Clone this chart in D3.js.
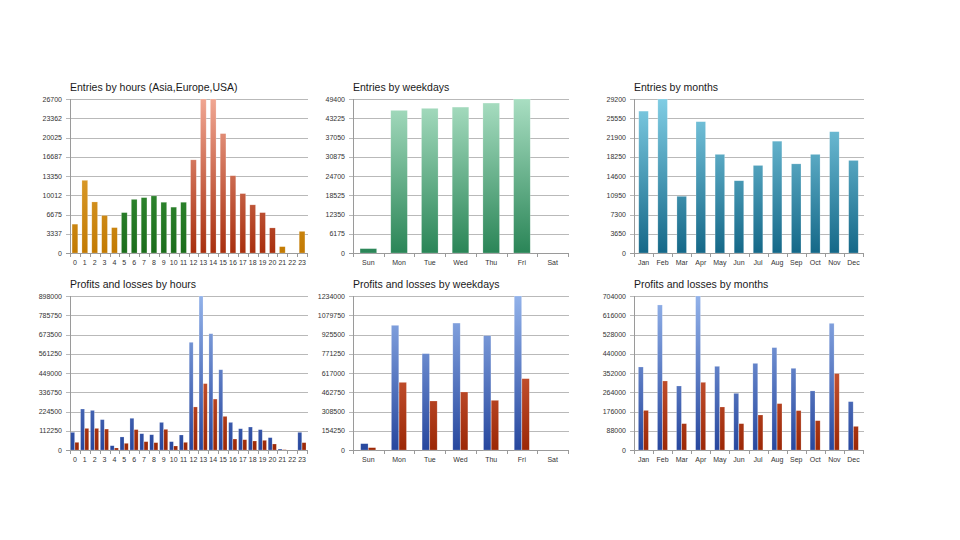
<!DOCTYPE html>
<html><head><meta charset="utf-8">
<script src="https://cdn.jsdelivr.net/npm/d3@7"></script>
<style>html,body{margin:0;padding:0;background:#fff;}svg{display:block;}</style>
</head><body>
<script>
// ---------- DATA ----------
const hours = ["0","1","2","3","4","5","6","7","8","9","10","11","12","13","14","15","16","17","18","19","20","21","22","23"];
const hourRegion = ["asia","asia","asia","asia","asia","europe","europe","europe","europe","europe","europe","europe","usa","usa","usa","usa","usa","usa","usa","usa","usa","asia","asia","asia"];
const entriesByHour = [5000,12600,8850,6500,4400,7000,9300,9600,9900,8800,7950,8800,16150,26700,26700,20700,13400,10300,8350,7000,4350,1100,0,3750];
const hourTicks = [0,3337,6675,10012,13350,16687,20025,23362,26700];

const weekdays = ["Sun","Mon","Tue","Wed","Thu","Fri","Sat"];
const entriesByWeekday = [1400,45750,46400,46800,48100,49400,0];
const weekdayTicks = [0,6175,12350,18525,24700,30875,37050,43225,49400];

const months = ["Jan","Feb","Mar","Apr","May","Jun","Jul","Aug","Sep","Oct","Nov","Dec"];
const entriesByMonth = [26900,29200,10750,24900,18700,13700,16600,21200,16900,18700,23000,17550];
const monthTicks = [0,3650,7300,10950,14600,18250,21900,25550,29200];

const profitsByHour = [103000,239000,231000,177000,25000,76000,185000,95000,89000,161000,48600,87500,628000,898000,678000,468000,161000,124000,134000,118600,72000,5800,0,103000];
const lossesByHour  = [44700,126000,126000,122000,11700,39000,119000,48600,42800,120500,23300,44700,251000,387000,297000,196000,64000,60000,52500,56400,35000,2000,0,42800];
const plHourTicks = [0,112250,224500,336750,449000,561250,673500,785750,898000];

const profitsByWeekday = [50700,999000,772000,1017000,916000,1234000,0];
const lossesByWeekday  = [18700,542000,392600,464800,398000,571600,0];
const plWeekdayTicks = [0,154250,308500,462750,617000,771250,925500,1079750,1234000];

const profitsByMonth = [379500,663000,292600,704000,382500,259000,396000,468000,373400,270000,579000,221000];
const lossesByMonth  = [181000,315500,120400,309400,196600,120400,160000,212000,180000,134000,349000,108000];
const plMonthTicks = [0,88000,176000,264000,352000,440000,528000,616000,704000];

// ---------- DRAWING ----------
const W = 960, H = 540;
const svg = d3.select("body").append("svg").attr("width", W).attr("height", H)
  .style("font-family", "'Liberation Sans', Arial, sans-serif");
const defs = svg.append("defs");

const grads = {
  asia:   ["#f0b850", "#c27a02"],
  europe: ["#4aa84a", "#1b6d1b"],
  usa:    ["#f0a692", "#a82f0e"],
  week:   ["#a9dec2", "#2a8557"],
  month:  ["#80cde4", "#156888"],
  profit: ["#92b2ea", "#27479e"],
  loss:   ["#e87858", "#9c2806"]
};
let panelId = 0;

function panel(cfg) {
  const pid = panelId++;
  const g = svg.append("g");
  const x = d3.scaleBand().domain(cfg.cats).range([cfg.x0, cfg.x1]).paddingInner(0).paddingOuter(0);
  const y = d3.scaleLinear().domain([0, cfg.ticks[cfg.ticks.length - 1]]).range([cfg.yb, cfg.yt]);

  Object.entries(grads).forEach(([k, [c0, c1]]) => {
    const lg = defs.append("linearGradient").attr("id", "g" + pid + "-" + k)
      .attr("gradientUnits", "userSpaceOnUse")
      .attr("x1", 0).attr("y1", cfg.yt).attr("x2", 0).attr("y2", cfg.yb);
    lg.append("stop").attr("offset", "0%").attr("stop-color", c0);
    lg.append("stop").attr("offset", "100%").attr("stop-color", c1);
  });

  // gridlines + y labels
  g.selectAll(".grid").data(cfg.ticks).join("line")
    .attr("x1", cfg.x0 - 4).attr("x2", cfg.x1 + 1)
    .attr("y1", d => Math.round(y(d)) + 0.5).attr("y2", d => Math.round(y(d)) + 0.5)
    .attr("stroke", d => d === 0 ? "#9a9a9a" : "#b9b9b9").attr("stroke-width", 1);
  g.selectAll(".ylab").data(cfg.ticks).join("text")
    .attr("x", cfg.x0 - 8).attr("y", d => y(d) + 2.5)
    .attr("text-anchor", "end").attr("font-size", 7).attr("fill", "#333")
    .text(d => d);
  // y axis line
  g.append("line").attr("x1", cfg.x0 + 0.5).attr("x2", cfg.x0 + 0.5)
    .attr("y1", cfg.yt).attr("y2", cfg.yb + 0.5).attr("stroke", "#9a9a9a");
  // category ticks
  const bounds = cfg.cats.map(c => x(c)).concat([cfg.x1]);
  g.selectAll(".xt").data(bounds).join("line")
    .attr("x1", d => Math.round(d) + 0.5).attr("x2", d => Math.round(d) + 0.5)
    .attr("y1", cfg.yb).attr("y2", cfg.yb + 4).attr("stroke", "#9a9a9a");
  // category labels
  g.selectAll(".xlab").data(cfg.cats).join("text")
    .attr("x", d => x(d) + x.bandwidth() / 2).attr("y", cfg.yb + 12)
    .attr("text-anchor", "middle").attr("font-size", 7).attr("fill", "#333")
    .text(d => d);
  // title
  g.append("text").attr("x", cfg.x0).attr("y", cfg.yt - 8)
    .attr("font-size", 10.5).attr("fill", "#1a1a1a").text(cfg.title);

  // bars
  const bw = x.bandwidth();
  const inner = bw * (1 - cfg.pad);
  const n = cfg.series.length;
  const sw = inner / n;
  cfg.series.forEach((s, si) => {
    g.selectAll(".bar" + si).data(s.values).join("rect")
      .attr("x", (d, i) => x(cfg.cats[i]) + (bw - inner) / 2 + si * sw)
      .attr("width", sw - (n > 1 ? 0.3 : 0))
      .attr("y", d => y(d))
      .attr("height", d => cfg.yb - y(d))
      .attr("fill", (d, i) => "url(#g" + pid + "-" + s.color(i) + ")")
      .attr("stroke", "rgba(255,255,255,0.35)").attr("stroke-width", 0.6);
  });
}

panel({title: "Entries by hours (Asia,Europe,USA)", cats: hours, x0: 70, x1: 307, yt: 99, yb: 253, ticks: hourTicks, pad: 0.42,
  series: [{values: entriesByHour, color: i => hourRegion[i]}]});
panel({title: "Entries by weekdays", cats: weekdays, x0: 353, x1: 568, yt: 99, yb: 253, ticks: weekdayTicks, pad: 0.46,
  series: [{values: entriesByWeekday, color: () => "week"}]});
panel({title: "Entries by months", cats: months, x0: 634, x1: 863, yt: 99, yb: 253, ticks: monthTicks, pad: 0.5,
  series: [{values: entriesByMonth, color: () => "month"}]});

panel({title: "Profits and losses by hours", cats: hours, x0: 70, x1: 307, yt: 296, yb: 450, ticks: plHourTicks, pad: 0.14,
  series: [{values: profitsByHour, color: () => "profit"}, {values: lossesByHour, color: () => "loss"}]});
panel({title: "Profits and losses by weekdays", cats: weekdays, x0: 353, x1: 568, yt: 296, yb: 450, ticks: plWeekdayTicks, pad: 0.5,
  series: [{values: profitsByWeekday, color: () => "profit"}, {values: lossesByWeekday, color: () => "loss"}]});
panel({title: "Profits and losses by months", cats: months, x0: 634, x1: 863, yt: 296, yb: 450, ticks: plMonthTicks, pad: 0.46,
  series: [{values: profitsByMonth, color: () => "profit"}, {values: lossesByMonth, color: () => "loss"}]});
</script>
</body></html>
